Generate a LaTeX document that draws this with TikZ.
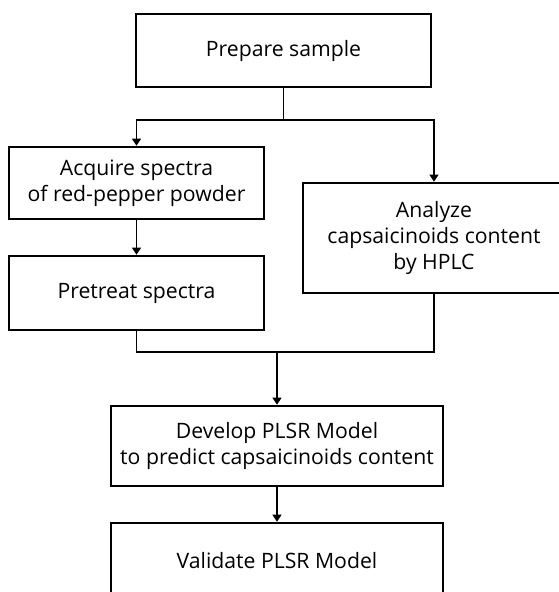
\documentclass[tikz,border=0pt]{standalone}
\usepackage{fontspec}
\setmainfont{Open Sans}
\usetikzlibrary{arrows.meta}
\begin{document}
\begin{tikzpicture}[x=1pt,y=-1pt,
  stepbox/.style={draw=black, line width=2.6pt, fill=white, align=center,
    inner sep=0pt, font=\fontsize{21.2}{26}\selectfont},
  conn/.style={line width=1.4pt, draw=black},
  arr/.style={conn, -{Triangle[width=9pt,length=7pt]}}]
\useasboundingbox (0,0) rectangle (559,592);
\clip (0,0) rectangle (559,592);
\fill[white] (0,0) rectangle (559,592);
\node[stepbox, minimum width=295pt, minimum height=73pt] (prep) at (283.5,50.5) {Prepare sample};
\node[stepbox, minimum width=255pt, minimum height=72pt] (acq) at (136.5,183) {Acquire spectra\\of red-pepper powder};
\node[stepbox, minimum width=255pt, minimum height=74pt] (pre) at (136.5,293) {Pretreat spectra};
\node[stepbox, minimum width=262pt, minimum height=110pt] (ana) at (434,238) {Analyze\\capsaicinoids content\\by HPLC};
\node[stepbox, minimum width=332pt, minimum height=80pt] (dev) at (277,446) {Develop PLSR Model\\to predict capsaicinoids content};
\node[stepbox, minimum width=332pt, minimum height=76pt] (val) at (277,561) {Validate PLSR Model};
\coordinate (j1) at (283.5,120);
\coordinate (j2) at (277,352);
\draw[conn] (prep.south) -- (j1);
\draw[arr] (j1) -| (acq.north);
\draw[arr] (j1) -| (ana.north);
\draw[arr] (acq.south) -- (pre.north);
\draw[conn] (pre.south) |- (j2);
\draw[conn] (ana.south) |- (j2);
\draw[arr] (j2) -- (dev.north);
\draw[arr] (dev.south) -- (val.north);
\end{tikzpicture}
\end{document}
